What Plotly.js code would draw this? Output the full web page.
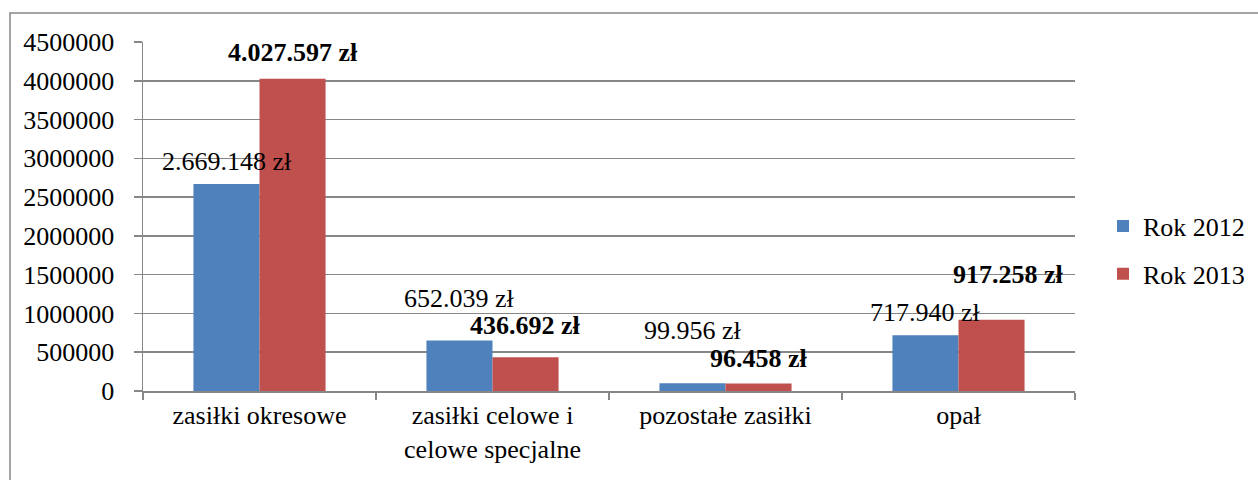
<!DOCTYPE html>
<html>
<head>
<meta charset="utf-8">
<script src="https://cdn.plot.ly/plotly-3.0.1.min.js"></script>
<style>
html,body{margin:0;padding:0;background:#fff;}
#chart{width:1258px;height:480px;}
</style>
</head>
<body>
<div id="chart"></div>
<script>
// ---- data ----
const categories = ["zasiłki okresowe", "zasiłki celowe i<br>celowe specjalne", "pozostałe zasiłki", "opał"];
const seriesNames = ["Rok 2012", "Rok 2013"];
const values2012 = [2669148, 652039, 99956, 717940];
const values2013 = [4027597, 436692, 96458, 917258];
const yTickVals = [0, 500000, 1000000, 1500000, 2000000, 2500000, 3000000, 3500000, 4000000, 4500000];

// ---- styling ----
const FONT = "Liberation Serif";
const colors = ["#4F81BD", "#C0504D"];
const gridColor = "#878787";
// label placement (pixel offsets from bar top)
const lblShift2012 = [{x:-33,y:22},{x:-33,y:42},{x:-33,y:53},{x:-33,y:23}];
const lblShift2013 = [{x:33,y:26},{x:33,y:32},{x:33,y:25},{x:50,y:45}];

function fmt(v){
  return String(v).replace(/\B(?=(\d{3})+(?!\d))/g, ".") + " zł";
}

const traces = [
  {type:"bar", name:seriesNames[0], legendgroup:"a", x:categories, y:values2012, marker:{color:colors[0]}, hoverinfo:"none"},
  {type:"bar", name:seriesNames[1], legendgroup:"b", x:categories, y:values2013, marker:{color:colors[1]}, hoverinfo:"none"}
];

const annotations = [];
categories.forEach((c,i)=>{
  annotations.push({x:c, y:values2012[i], xref:"x", yref:"y", text:fmt(values2012[i]),
    showarrow:false, xanchor:"center", yanchor:"middle", xshift:lblShift2012[i].x, yshift:lblShift2012[i].y,
    font:{family:FONT, size:26, color:"#000"}});
  annotations.push({x:c, y:values2013[i], xref:"x", yref:"y", text:"<b>"+fmt(values2013[i])+"</b>",
    showarrow:false, xanchor:"center", yanchor:"middle", xshift:lblShift2013[i].x, yshift:lblShift2013[i].y,
    font:{family:FONT, size:26, color:"#000"}});
});

const layout = {
  width:1258, height:480,
  margin:{l:143, r:183, t:42, b:89, pad:0},
  paper_bgcolor:"#fff", plot_bgcolor:"#fff",
  font:{family:FONT, size:26, color:"#000"},
  barmode:"group", bargap:0.433, bargroupgap:0,
  showlegend:true,
  legend:{x:1103/1258, xref:"container", y:230/480, yref:"container", yanchor:"middle", xanchor:"left",
    font:{family:FONT, size:26, color:"#000"}, bgcolor:"rgba(0,0,0,0)", itemwidth:30,
    traceorder:"grouped", tracegroupgap:11},
  xaxis:{type:"category", showgrid:false, showline:true, linecolor:gridColor, linewidth:1.5,
    ticks:"outside", tickson:"boundaries", ticklen:7, tickcolor:gridColor, tickwidth:1.5,
    tickfont:{family:FONT, size:26, color:"#000"}, zeroline:false, fixedrange:true},
  yaxis:{range:[0,4500000], tickvals:yTickVals, ticktext:yTickVals.map(v=>String(v)),
    showgrid:true, gridcolor:gridColor, gridwidth:1.5,
    showline:true, linecolor:gridColor, linewidth:1.5,
    ticks:"outside", ticklen:8, tickcolor:gridColor, tickwidth:1.5, ticklabelstandoff:14,
    zeroline:false, tickfont:{family:FONT, size:26, color:"#000"}, fixedrange:true},
  annotations:annotations,
  shapes:[{type:"rect", xref:"paper", yref:"paper",
    x0:(10-143)/932, x1:(1270-143)/932, y0:(391-490)/349, y1:(391-13)/349,
    line:{color:gridColor, width:1.5}, fillcolor:"rgba(0,0,0,0)", layer:"below"}]
};

Plotly.newPlot("chart", traces, layout, {displayModeBar:false, staticPlot:true});
</script>
</body>
</html>
